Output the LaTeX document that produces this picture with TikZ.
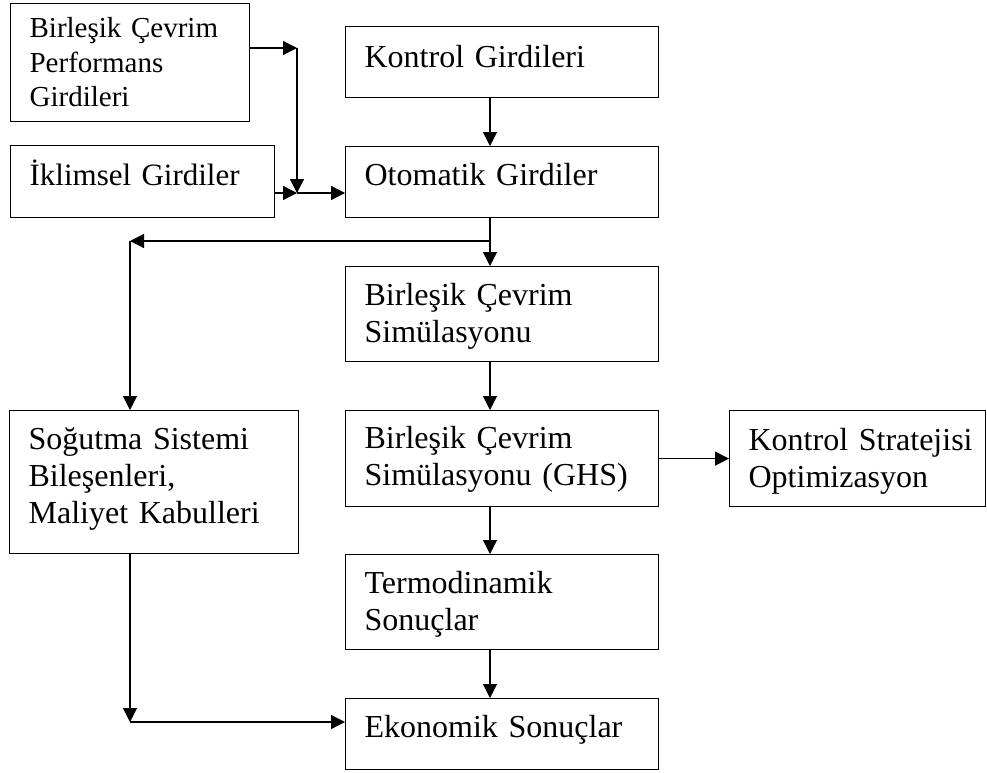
\documentclass[tikz,border=0pt]{standalone}
\usepackage{fontspec}
\setmainfont{Liberation Serif}
\usetikzlibrary{arrows.meta}

\begin{document}
\begin{tikzpicture}[x=1pt,y=-1pt,>={Triangle[length=14pt,width=14pt]},
                    line width=1.2pt]
  \tikzstyle{blok}=[draw,anchor=north west,align=left,inner sep=0pt,
                    text height=39pt,execute at begin node={\leftskip=19pt},
                    font=\fontsize{32}{37}\selectfont]
  \useasboundingbox (0,0) rectangle (987,773);

  \node[blok,text width=239pt,text height=34pt,text depth=84pt,
        font=\fontsize{29}{34.5}\selectfont] (bp) at (10,3)
        {Birleşik Çevrim\\Performans\\Girdileri};
  \node[blok,text width=264pt,text height=40pt,text depth=32pt,
        font=\fontsize{31}{37}\selectfont] (ik) at (10,145)
        {İklimsel Girdiler};
  \node[blok,text width=313pt,text height=41pt,text depth=30pt] (kg) at (345,26)
        {Kontrol Girdileri};
  \node[blok,text width=313pt,text depth=32pt] (og) at (345,146)
        {Otomatik Girdiler};
  \node[blok,text width=313pt,text depth=56pt] (bs) at (345,266)
        {Birleşik Çevrim\\Simülasyonu};
  \node[blok,text width=289pt,text depth=104pt] (ss) at (9,410)
        {Soğutma Sistemi\\Bileşenleri,\\Maliyet Kabulleri};
  \node[blok,text width=313pt,text height=38pt,text depth=58pt] (gh) at (345,410)
        {Birleşik Çevrim\\Simülasyonu (GHS)};
  \node[blok,text width=256pt,text height=40pt,text depth=56pt] (ks) at (729,410)
        {Kontrol Stratejisi\\Optimizasyon};
  \node[blok,text width=313pt,text depth=56pt] (ts) at (345,554)
        {Termodinamik\\Sonuçlar};
  \node[blok,text width=313pt,text depth=32pt] (es) at (345,698)
        {Ekonomik Sonuçlar};

  \coordinate (j1) at (297,48);
  \coordinate (j2) at (297,193);
  \coordinate (j3) at (490,241);
  \coordinate (j4) at (130,241);
  \coordinate (j5) at (130,722);

  \path[every edge/.style={draw,->}]
        (bp.east |- j1) edge (j1)
        (j1) edge (j2)
        (ik.east |- j2) edge (j2)
        (j2) edge (j2 -| og.west)
        (kg.south -| j3) edge (og.north -| j3)
        (og.south -| j3) edge (bs.north -| j3)
        (j3) edge (j4)
        (j4) edge (ss.north -| j4)
        (bs.south -| j3) edge (gh.north -| j3)
        (gh) edge (ks)
        (gh.south -| j3) edge (ts.north -| j3)
        (ts.south -| j3) edge (es.north -| j3)
        (ss.south -| j5) edge (j5)
        (j5) edge (j5 -| es.west);
\end{tikzpicture}
\end{document}
